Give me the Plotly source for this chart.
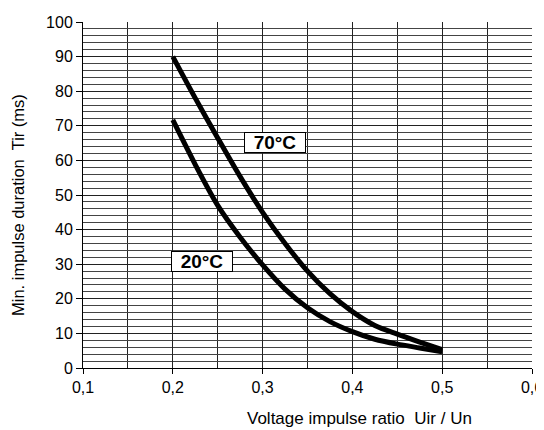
import plotly.graph_objects as go

ratio = [0.2, 0.225, 0.25, 0.275, 0.3, 0.325, 0.35, 0.375, 0.4, 0.425, 0.45, 0.475, 0.5]
t70 = [90, 78, 66.5, 55.3, 45, 36, 28, 21.5, 16.3, 12.3, 9.8, 7.5, 5.3]
t20 = [71.7, 58.8, 47, 37.8, 29.8, 22.8, 17.4, 13.4, 10.5, 8.3, 6.9, 5.8, 4.7]
x_ticks = [0.1, 0.2, 0.3, 0.4, 0.5, 0.6]
x_labels = ["0,1", "0,2", "0,3", "0,4", "0,5", "0,6"]
y_ticks = [0, 10, 20, 30, 40, 50, 60, 70, 80, 90, 100]
x_title = "Voltage impulse ratio  Uir / Un"
y_title = "Min. impulse duration  Tir (ms)"

FONT = "Liberation Sans, Arial, sans-serif"

fig = go.Figure()
fig.add_trace(go.Scatter(x=ratio, y=t70, mode="lines",
                         line=dict(color="black", width=5, shape="spline", smoothing=0.8),
                         showlegend=False, hoverinfo="skip"))
fig.add_trace(go.Scatter(x=ratio, y=t20, mode="lines",
                         line=dict(color="black", width=5, shape="spline", smoothing=0.8),
                         showlegend=False, hoverinfo="skip"))

for txt, ax, ay in [("70°C", 0.314, 65.2), ("20°C", 0.2325, 30.7)]:
    fig.add_annotation(x=ax, y=ay, text="<b>%s</b>" % txt, showarrow=False,
                       font=dict(family=FONT, size=19, color="black"),
                       bgcolor="white", bordercolor="black", borderwidth=1,
                       width=60, height=19, borderpad=0)

# axis titles (placed off-centre as in the reference)
fig.add_annotation(x=0.615, y=0, xref="paper", yref="paper", text=x_title,
                   showarrow=False, yanchor="middle", yshift=-50,
                   font=dict(family=FONT, size=17, color="black"))
fig.add_annotation(x=0, y=0.471, xref="paper", yref="paper", text=y_title,
                   showarrow=False, textangle=-90, xanchor="center", xshift=-65,
                   font=dict(family=FONT, size=16.5, color="black"))

grid_col = "#222222"
fig.update_xaxes(range=[0.1, 0.6], tickvals=x_ticks, ticktext=x_labels,
                 automargin=False, ticklabeloverflow="allow",
                 showgrid=True, gridcolor=grid_col, gridwidth=1,
                 minor=dict(dtick=0.05, tick0=0.1, showgrid=True, gridcolor=grid_col, gridwidth=1),
                 ticks="outside", ticklen=5, tickcolor="black",
                 showline=True, linecolor="black", linewidth=1, mirror=False,
                 zeroline=False,
                 tickfont=dict(family=FONT, size=16, color="black"))
fig.update_yaxes(range=[0, 100], tickvals=y_ticks,
                 automargin=False,
                 showgrid=True, gridcolor=grid_col, gridwidth=1,
                 minor=dict(dtick=2, tick0=0, showgrid=True, gridcolor="#444444", gridwidth=1),
                 ticks="outside", ticklen=6, tickcolor="black",
                 showline=True, linecolor="black", linewidth=1,
                 zeroline=False,
                 tickfont=dict(family=FONT, size=16, color="black"))

# the page body adds an 8px margin, so the figure is sized and offset to fit
fig.update_layout(width=536, height=422,
                  margin=dict(l=75, r=12, t=14, b=62),
                  paper_bgcolor="white", plot_bgcolor="white",
                  font=dict(family=FONT, color="black"))

fig.write_html("out.html")
